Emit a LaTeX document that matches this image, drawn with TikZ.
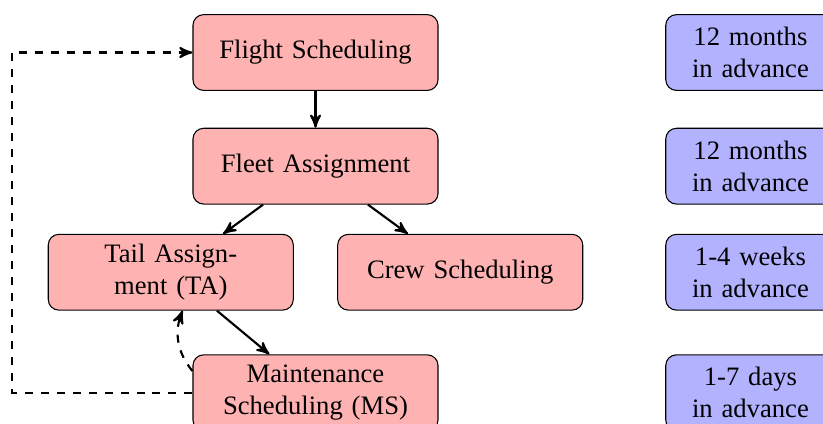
\documentclass[tikz,border=0pt]{standalone}
\usepackage{fontspec}
\setmainfont{Liberation Serif}
\usetikzlibrary{shapes, arrows, positioning}

\begin{document}
\begin{tikzpicture}[
        >=stealth',
        stage/.style={draw, fill=red!30, rounded corners=4pt, text width=3cm,
            minimum height=1cm, align=center},
        lead/.style={draw, fill=blue!30, rounded corners=4pt, text width=2cm,
            minimum height=1cm, align=center},
        flow/.style={->, thick},
        feedback/.style={->, thick, dashed}]

    % 画布范围
    \useasboundingbox (-4.164,-4.890) rectangle (6.698,0.693);

    % --- 计划阶段 ---
    \node[stage] (fs) at (0, 0) {Flight Scheduling};
    \node[stage] (fa) at (0, -1.5) {Fleet Assignment};
    \node[stage] (ta) at (-1.91, -2.9) {Tail Assign-\\ment (TA)};
    \node[stage] (cs) at (1.91, -2.9) {Crew Scheduling};
    \node[stage] (ms) at (0, -4.49) {Maintenance\\Scheduling (MS)};

    % --- 提前时间 ---
    \node[lead] (t1) at (5.74, 0) {12 months\\in advance};
    \node[lead] (t2) at (5.74, -1.5) {12 months\\in advance};
    \node[lead] (t3) at (5.74, -2.9) {1-4 weeks\\in advance};
    \node[lead] (t4) at (5.74, -4.49) {1-7 days\\in advance};

    % 主流程
    \draw[flow] (fs) -- (fa);
    \draw[flow] (fa) -- (ta);
    \draw[flow] (fa) -- (cs);
    \draw[flow] (ta) -- (ms);

    % 反馈回路
    \coordinate (back) at (-4.0, -4.49);
    \draw[feedback] (ms.west) -- (back) |- (fs.west);
    \draw[feedback] (ms.170) to[bend left] (ta.-73);
\end{tikzpicture}
\end{document}
